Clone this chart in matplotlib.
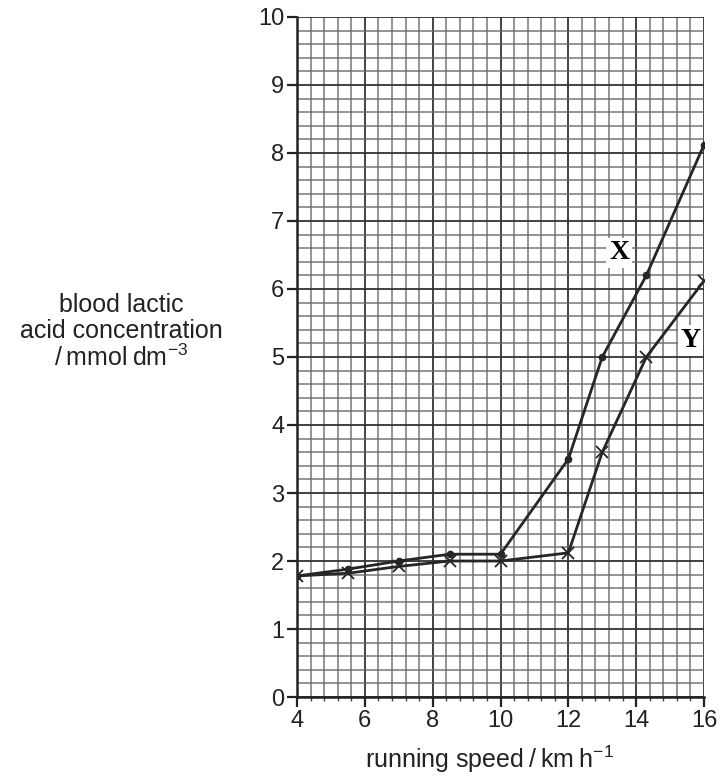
import numpy as np
import matplotlib
matplotlib.use('Agg')
import matplotlib.pyplot as plt
from matplotlib.ticker import MultipleLocator

plt.rcParams['font.family'] = ['Liberation Sans', 'DejaVu Sans']
plt.rcParams['mathtext.default'] = 'regular'

# running speed / km h-1
speed = [4, 5.5, 7, 8.5, 10, 12, 13, 14.3, 16]
# blood lactic acid concentration / mmol dm-3
conc_x = [1.78, 1.88, 2.0, 2.1, 2.1, 3.5, 5.0, 6.2, 8.12]
conc_y = [1.78, 1.82, 1.92, 2.0, 2.0, 2.12, 3.6, 5.0, 6.12]

x_ticks = [4, 6, 8, 10, 12, 14, 16]
y_ticks = list(range(0, 11))

line_col = '#262626'
text_col = '#222222'

fig = plt.figure(figsize=(7.2, 7.76), dpi=100, facecolor='white')
ax = fig.add_axes([0.4125, 0.1018, 0.5653, 0.8763])

ax.set_xlim(4, 16)
ax.set_ylim(0, 10)
ax.set_xticks(x_ticks)
ax.set_yticks(y_ticks)
ax.xaxis.set_minor_locator(MultipleLocator(0.4))
ax.yaxis.set_minor_locator(MultipleLocator(0.2))

# graph paper
ax.grid(which='minor', color='#666666', linewidth=1.15, alpha=0.85)
ax.grid(which='major', color='#333333', linewidth=1.3)
ax.set_axisbelow(True)

for s in ['top', 'right']:
    ax.spines[s].set_visible(False)
for s in ['left', 'bottom']:
    ax.spines[s].set_color(text_col)
    ax.spines[s].set_linewidth(1.8)

ax.tick_params(which='major', direction='out', length=7, width=1.6, color=text_col,
               labelsize=17, labelcolor=text_col, pad=2)
ax.tick_params(which='minor', direction='out', length=3, width=1.0, color='#444444')
ax.tick_params(axis='y', which='minor', length=0)

ax.plot(speed, conc_x, color=line_col, linewidth=2.0, marker='o', markersize=4.5, zorder=3)
ax.plot(speed, conc_y, color=line_col, linewidth=2.0, marker='x', markersize=8,
        markeredgewidth=1.3, zorder=3)

box = dict(facecolor='white', edgecolor='none', pad=2)
ax.text(13.5, 6.53, 'X', fontsize=20, fontweight='bold', family='Liberation Serif',
        ha='center', va='center', bbox=box, zorder=4)
ax.text(15.6, 5.24, 'Y', fontsize=20, fontweight='bold', family='Liberation Serif',
        ha='center', va='center', bbox=box, zorder=4)

fig.text(0.168, 0.572, 'blood lactic\nacid concentration\n/\u2009mmol\u2009dm$^{\u22123}$',
         ha='center', va='center', fontsize=18, color=text_col, linespacing=1.1)
fig.text(0.68, 0.021, 'running speed\u2009/\u2009km\u2009h$^{\u22121}$',
         ha='center', va='center', fontsize=18, color=text_col)

fig.savefig('out.png', dpi=100, facecolor='white')
